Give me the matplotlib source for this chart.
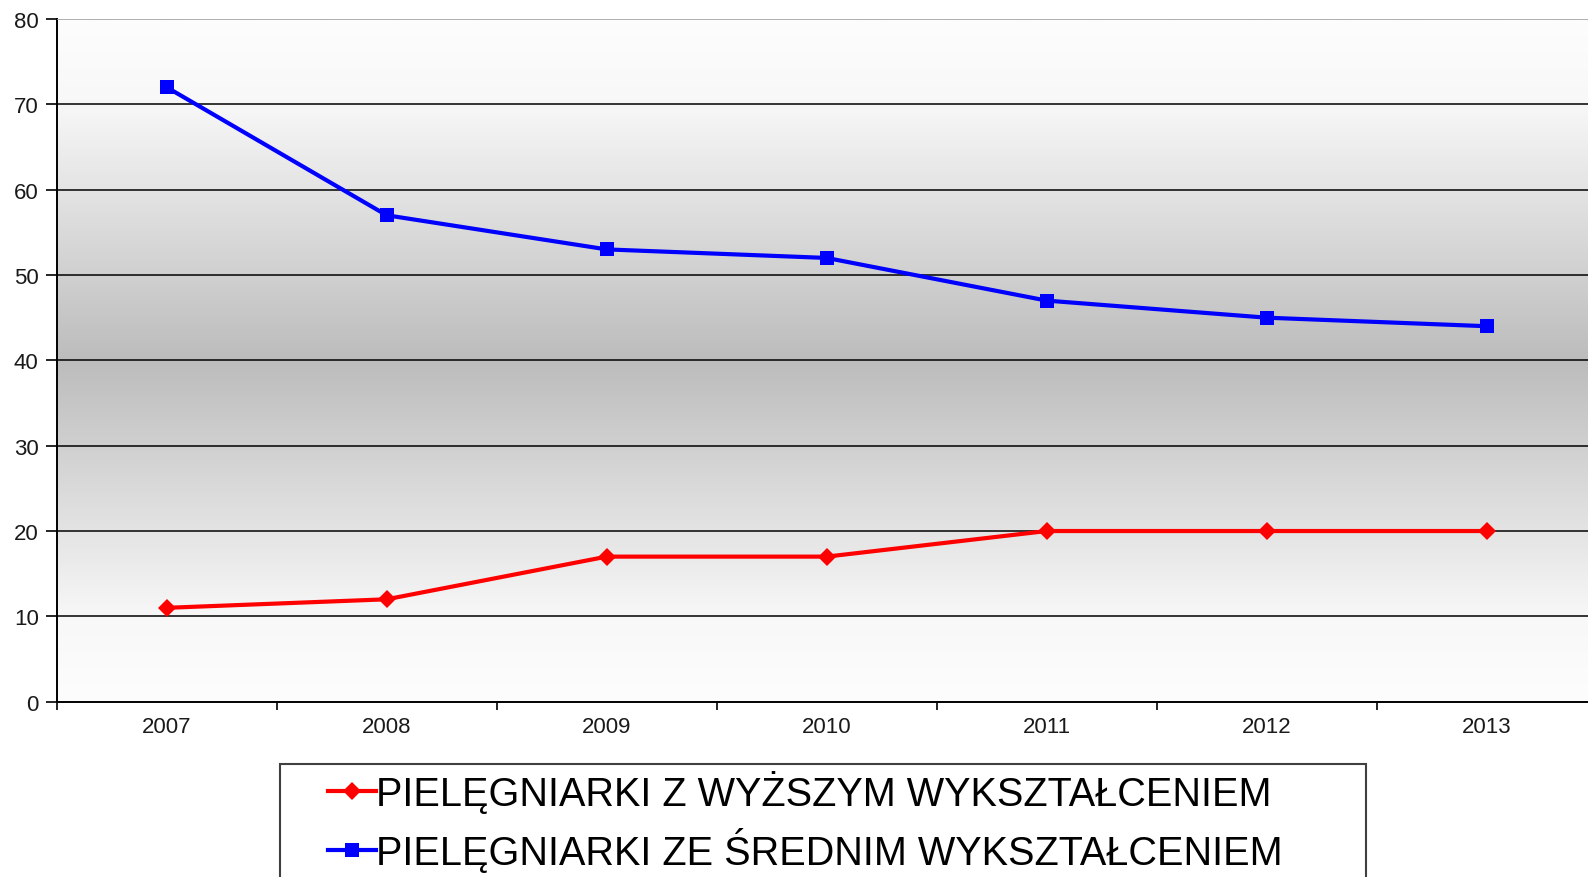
import numpy as np
import matplotlib.pyplot as plt
from matplotlib.colors import LinearSegmentedColormap
from matplotlib.patches import Rectangle

plt.rcParams['font.family'] = ['Liberation Sans', 'DejaVu Sans']

years = ['2007', '2008', '2009', '2010', '2011', '2012', '2013']
wyzsze = [11, 12, 17, 17, 20, 20, 20]
srednie = [72, 57, 53, 52, 47, 45, 44]
labels = ['PIELĘGNIARKI Z WYŻSZYM WYKSZTAŁCENIEM',
          'PIELĘGNIARKI ZE ŚREDNIM WYKSZTAŁCENIEM']

W, H = 1588, 878
fig = plt.figure(figsize=(W / 100, H / 100), dpi=100)
fig.patch.set_facecolor('white')

# axes run slightly past the right edge, like in the source image
left, right, top, bottom = 56.7, 1596.7, 20, 702.7
ax = fig.add_axes([left / W, 1 - bottom / H, (right - left) / W, (bottom - top) / H])

x = np.arange(len(years))
ax.set_xlim(-0.5, len(years) - 0.5)
ax.set_ylim(0, 80)

# vertical grey gradient: white at top/bottom, grey in the middle
cmap = LinearSegmentedColormap.from_list(
    'bg', [(0.0, '#fdfdfd'), (0.12, '#f8f8f8'), (0.5, '#bcbcbc'),
           (0.88, '#f8f8f8'), (1.0, '#fdfdfd')])
grad = np.linspace(0, 1, 256).reshape(-1, 1)
ax.imshow(grad, cmap=cmap, aspect='auto', extent=[-0.5, len(years) - 0.5, 0, 80],
          origin='lower', zorder=0, interpolation='bilinear')

ax.set_yticks(np.arange(0, 81, 10))
ax.yaxis.grid(True, color='black', linewidth=1.1, zorder=1)
ax.set_axisbelow(False)
gl = ax.get_ygridlines()
gl[-1].set_color('#9a9a9a')
gl[0].set_visible(False)

ax.plot(x, wyzsze, color='#ff0000', lw=3, marker='D', markersize=9,
        markeredgewidth=0, zorder=3, label=labels[0])
ax.plot(x, srednie, color='#0000ff', lw=3, marker='s', markersize=9.4,
        markeredgewidth=0, zorder=3, label=labels[1])

ax.set_xticks(x)
ax.set_xticklabels(years)
ax.set_xticks(np.arange(-0.5, len(years), 1), minor=True)
ax.tick_params(axis='x', which='major', length=0, pad=10, labelsize=16,
               labelcolor='#1a1a1a')
ax.tick_params(axis='x', which='minor', length=6, width=1.2, color='black')
ax.tick_params(axis='y', length=8, width=1.2, pad=5, labelsize=16,
               labelcolor='#1a1a1a')

for s in ['top', 'right']:
    ax.spines[s].set_visible(False)
for s in ['left', 'bottom']:
    ax.spines[s].set_color('black')
    ax.spines[s].set_linewidth(1.4)

# legend box (runs past the bottom edge)
fig.patches.append(Rectangle((280 / W, -0.05), (1366 - 280) / W, 1 - 765 / H + 0.05,
                             transform=fig.transFigure, facecolor='white',
                             edgecolor='#404040', linewidth=1.5))
h, l = ax.get_legend_handles_labels()
fig.legend(h, l, loc='upper left', bbox_to_anchor=(328 / W, 1 - 771 / H),
           frameon=False, fontsize=28.5, handlelength=1.2, handletextpad=0.0,
           borderpad=0, borderaxespad=0, labelspacing=0.35)

fig.savefig('out.png', dpi=100)
